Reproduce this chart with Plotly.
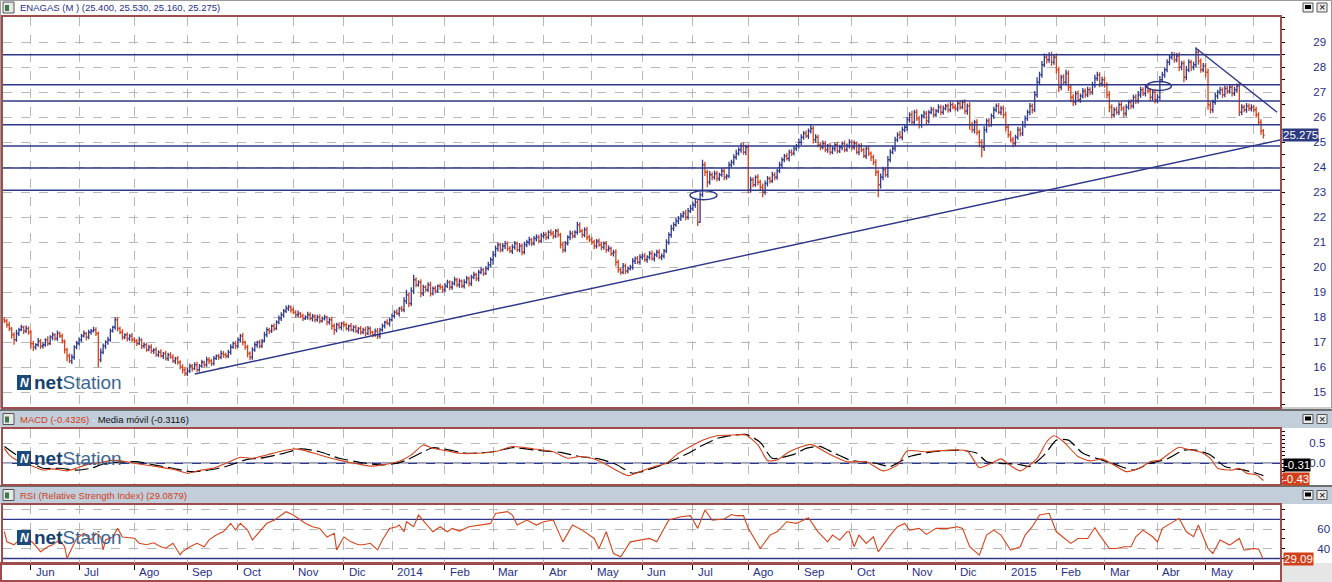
import plotly.graph_objects as go

W, H = 1332, 582


def px(x):
    return x / W


def py(y):
    return 1 - y / H


BLUE = "#2f3c8f"
RED = "#d4431c"
NAVY = "#2e3888"
FRAME = "#a04c4c"
GRID = "#b8b8b8"
TXT = "#1f2f86"
FONT = "Liberation Sans"

# ---------------- data ----------------
month_labels = ["", "Jun", "Jul", "Ago", "Sep", "Oct", "Nov", "Dic", "2014", "Feb", "Mar", "Abr", "May",
                "Jun", "Jul", "Ago", "Sep", "Oct", "Nov", "Dic", "2015", "Feb", "Mar", "Abr", "May", ""]

first_open = 17.90
closes_by_month = [
    [17.85, 17.70, 17.55, 17.30, 17.10, 17.35, 17.50, 17.60, 17.45, 17.55, 17.40],
    [16.95, 16.80, 16.90, 17.05, 16.85, 16.90, 17.10, 16.95, 17.20, 17.30, 17.15, 17.35, 17.25, 17.05, 16.70, 16.45, 16.25, 16.40, 16.80, 16.95],
    [17.10, 17.25, 17.35, 17.20, 17.40, 17.45, 17.50, 17.35, 16.30, 16.60, 16.85, 17.00, 17.10, 17.45, 17.60, 17.90, 17.55, 17.40, 17.20, 17.30, 17.15, 17.25, 17.10],
    [17.05, 16.95, 17.10, 16.85, 16.90, 16.70, 16.80, 16.65, 16.70, 16.50, 16.60, 16.45, 16.55, 16.35, 16.50, 16.40, 16.25, 16.35, 16.20, 16.00, 15.90, 15.75],
    [15.85, 16.05, 15.95, 16.10, 15.90, 16.05, 16.20, 16.10, 16.30, 16.25, 16.15, 16.35, 16.45, 16.40, 16.55, 16.50, 16.45, 16.60, 16.80, 16.95, 16.85],
    [17.10, 17.25, 17.00, 16.80, 16.55, 16.40, 16.70, 16.90, 17.00, 16.85, 17.05, 17.30, 17.50, 17.45, 17.65, 17.55, 17.80, 17.95, 18.10, 18.25, 18.35, 18.40, 18.30],
    [18.20, 18.10, 18.15, 18.05, 17.95, 18.00, 18.10, 17.95, 18.05, 17.90, 18.00, 17.85, 17.95, 18.00, 17.80, 17.90, 17.65, 17.50, 17.70, 17.60, 17.75],
    [17.70, 17.55, 17.65, 17.50, 17.60, 17.45, 17.55, 17.40, 17.50, 17.35, 17.55, 17.40, 17.30, 17.45, 17.25, 17.50, 17.65, 17.80, 17.75, 17.90],
    [18.05, 18.20, 18.15, 18.35, 18.30, 18.65, 18.90, 18.55, 19.05, 19.50, 19.30, 19.40, 18.95, 19.20, 19.10, 19.30, 18.95, 19.15, 19.05, 19.25, 19.20, 19.10],
    [19.25, 19.40, 19.20, 19.35, 19.50, 19.30, 19.45, 19.25, 19.40, 19.55, 19.35, 19.60, 19.70, 19.55, 19.80, 19.90, 19.75, 19.95, 20.10, 20.30],
    [20.50, 20.75, 20.90, 20.70, 20.85, 20.95, 20.75, 20.65, 20.80, 20.95, 20.70, 20.85, 20.60, 20.90, 21.00, 21.10, 20.95, 21.15, 21.20, 21.05, 21.25],
    [21.30, 21.20, 21.40, 21.35, 21.25, 21.45, 21.30, 20.90, 20.70, 20.95, 21.20, 21.35, 21.25, 21.40, 21.70, 21.45, 21.30, 21.50, 21.20, 21.10],
    [21.00, 20.85, 21.05, 20.90, 20.80, 20.95, 20.70, 20.75, 20.55, 20.60, 20.20, 19.90, 19.80, 20.05, 19.85, 19.95, 20.00, 20.25, 20.35, 20.20, 20.40],
    [20.45, 20.30, 20.40, 20.55, 20.35, 20.50, 20.60, 20.40, 20.45, 20.65, 21.00, 21.30, 21.55, 21.70, 21.85, 21.95, 22.05, 22.15, 22.00, 22.25, 22.35],
    [22.50, 22.60, 21.80, 22.90, 24.10, 23.80, 23.40, 23.70, 23.60, 23.75, 23.55, 23.70, 23.85, 23.60, 23.65, 24.10, 24.20, 24.40, 24.55, 24.70, 24.85, 24.60, 24.80],
    [23.10, 23.50, 23.30, 23.60, 23.40, 23.20, 23.00, 23.35, 23.55, 23.45, 23.70, 23.60, 23.85, 24.10, 24.30, 24.45, 24.35, 24.60, 24.55, 24.75, 24.85],
    [25.00, 25.20, 25.35, 25.25, 25.45, 25.55, 25.10, 25.20, 24.90, 24.80, 24.95, 24.70, 24.85, 24.60, 24.75, 24.90, 24.65, 24.80, 24.95, 24.70, 24.85, 25.00],
    [24.80, 24.95, 24.60, 24.85, 24.70, 24.45, 24.75, 24.55, 24.40, 24.20, 23.80, 23.30, 23.60, 23.90, 23.70, 24.30, 24.60, 24.75, 25.10, 25.30, 25.20, 25.50, 25.60],
    [25.90, 26.10, 25.80, 26.20, 25.95, 25.70, 26.05, 26.15, 25.85, 26.20, 26.30, 26.10, 26.25, 26.40, 26.20, 26.35, 26.45, 26.30, 26.50, 26.40],
    [26.35, 26.55, 26.40, 26.60, 26.25, 26.45, 25.70, 25.50, 25.80, 25.40, 25.00, 24.80, 25.50, 25.85, 25.70, 26.05, 26.30, 26.45, 26.20, 26.35, 26.10],
    [25.60, 25.30, 25.10, 24.95, 25.20, 25.50, 25.35, 25.70, 25.95, 26.20, 26.45, 26.30, 26.90, 27.40, 27.70, 28.10, 28.40, 28.30, 28.50, 28.20, 28.40],
    [27.90, 27.20, 27.60, 27.40, 27.75, 27.20, 26.80, 26.60, 26.95, 26.70, 26.85, 27.05, 26.90, 27.10, 27.00, 27.30, 27.55, 27.70, 27.35, 27.50],
    [27.30, 26.90, 26.40, 26.10, 26.30, 26.20, 26.50, 26.35, 26.15, 26.40, 26.60, 26.45, 26.80, 26.65, 26.90, 27.10, 26.95, 27.20, 27.05, 26.80, 27.00, 26.70],
    [26.80, 27.50, 27.70, 27.90, 28.20, 28.40, 28.50, 28.30, 28.45, 28.00, 28.15, 27.60, 27.90, 28.20, 28.00, 28.10, 28.60, 28.25, 27.90, 28.05],
    [27.80, 26.50, 26.30, 26.60, 26.85, 27.00, 27.10, 26.90, 27.15, 27.05, 27.20, 26.95, 27.10, 27.25, 26.20, 26.40, 26.30, 26.45, 26.35, 26.40],
    [26.30, 26.10, 25.80, 25.45, 25.275],
]

# upper / lower shadow beyond the bar body, in cents
wick_up_by_month = [
    [10, 8, 12, 6, 10, 15, 8, 10, 6, 12, 8],
    [8, 10, 6, 12, 8, 10, 6, 14, 8, 10, 6, 12, 8, 10, 6, 8, 10, 12, 8, 10],
    [10, 8, 12, 6, 10, 8, 12, 10, 8, 15, 10, 8, 12, 10, 6, 10, 10, 8, 12, 6, 10, 8, 12],
    [10, 8, 12, 6, 10, 8, 10, 12, 6, 10, 8, 12, 6, 10, 8, 10, 12, 6, 10, 8, 12, 10],
    [12, 10, 8, 10, 12, 8, 10, 6, 12, 10, 8, 10, 6, 8, 12, 10, 8, 10, 12, 8, 10],
    [10, 8, 12, 6, 10, 8, 10, 12, 6, 10, 8, 12, 10, 8, 6, 10, 8, 12, 10, 8, 12, 10, 8],
    [10, 8, 12, 6, 10, 8, 12, 10, 8, 6, 10, 12, 8, 10, 6, 8, 12, 10, 8, 10, 6],
    [10, 8, 6, 12, 8, 10, 6, 10, 8, 12, 10, 8, 6, 10, 12, 8, 10, 6, 12, 8],
    [10, 8, 12, 6, 10, 15, 20, 10, 15, 20, 10, 8, 12, 10, 8, 10, 12, 8, 10, 6, 10, 8],
    [12, 10, 8, 10, 12, 8, 10, 6, 12, 10, 8, 10, 12, 8, 10, 12, 8, 10, 12, 10],
    [15, 12, 10, 8, 12, 10, 8, 10, 12, 10, 8, 12, 10, 12, 10, 12, 8, 10, 12, 10, 12],
    [12, 10, 8, 12, 10, 8, 10, 8, 12, 10, 8, 12, 10, 8, 12, 10, 8, 10, 12, 10],
    [12, 10, 8, 10, 12, 8, 10, 12, 8, 10, 12, 10, 8, 12, 10, 8, 10, 12, 8, 10, 12],
    [10, 12, 8, 10, 12, 8, 10, 12, 10, 8, 12, 10, 15, 10, 12, 10, 12, 10, 15, 12, 15],
    [12, 15, 10, 10, 20, 12, 10, 15, 10, 12, 10, 8, 12, 10, 8, 12, 10, 12, 15, 10, 12, 15, 10],
    [10, 12, 10, 8, 12, 10, 15, 12, 10, 8, 12, 10, 8, 12, 10, 8, 12, 10, 12, 10, 8],
    [15, 12, 10, 12, 10, 15, 10, 12, 10, 8, 12, 10, 8, 12, 10, 8, 12, 10, 8, 12, 10, 12],
    [10, 12, 8, 10, 12, 8, 10, 12, 8, 10, 12, 10, 15, 12, 10, 15, 12, 10, 12, 10, 15, 12, 10],
    [12, 10, 15, 10, 12, 10, 8, 12, 10, 8, 12, 10, 8, 12, 10, 12, 8, 10, 12, 10],
    [12, 10, 12, 10, 12, 10, 15, 12, 10, 12, 10, 12, 15, 10, 12, 10, 12, 10, 12, 10, 12],
    [12, 10, 15, 12, 10, 12, 10, 15, 12, 10, 12, 10, 15, 20, 12, 15, 15, 12, 10, 12, 10],
    [15, 12, 10, 12, 15, 12, 10, 12, 10, 12, 10, 12, 10, 12, 10, 12, 15, 12, 10, 12],
    [12, 10, 15, 12, 10, 12, 10, 12, 10, 12, 10, 12, 10, 12, 15, 12, 10, 12, 10, 12, 10, 12],
    [12, 15, 12, 10, 12, 10, 12, 10, 12, 15, 10, 12, 15, 12, 10, 12, 20, 12, 10, 12],
    [12, 15, 12, 10, 12, 10, 12, 10, 12, 10, 12, 10, 12, 10, 15, 12, 10, 12, 10, 12],
    [10, 12, 10, 12, 8],
]
wick_dn_by_month = [
    [8, 12, 10, 15, 20, 8, 10, 6, 12, 8, 10],
    [20, 15, 10, 8, 12, 10, 8, 10, 6, 12, 8, 10, 8, 10, 15, 20, 8, 12, 10, 8],
    [8, 10, 6, 12, 8, 10, 6, 10, 30, 10, 8, 12, 10, 8, 6, 10, 12, 8, 10, 8, 12, 10, 8],
    [8, 10, 6, 12, 10, 8, 6, 10, 12, 8, 10, 6, 12, 8, 10, 6, 8, 12, 10, 8, 15, 10],
    [10, 8, 12, 6, 10, 8, 6, 10, 8, 12, 10, 8, 6, 10, 8, 12, 10, 8, 10, 6, 12],
    [8, 10, 12, 10, 15, 12, 10, 8, 12, 10, 8, 6, 10, 12, 8, 10, 6, 8, 10, 12, 8, 10, 12],
    [8, 12, 10, 8, 10, 6, 10, 8, 12, 10, 8, 10, 6, 8, 12, 10, 15, 20, 10, 8, 12],
    [10, 8, 12, 6, 10, 8, 12, 10, 8, 10, 6, 12, 10, 8, 12, 10, 8, 10, 6, 12],
    [8, 10, 6, 12, 8, 10, 12, 15, 10, 12, 10, 8, 15, 10, 8, 10, 12, 8, 10, 8, 10, 12],
    [10, 8, 12, 10, 8, 10, 12, 8, 10, 6, 12, 10, 8, 10, 12, 8, 10, 6, 8, 10],
    [20, 10, 12, 10, 8, 12, 10, 8, 12, 10, 8, 10, 12, 8, 10, 12, 10, 8, 12, 10, 8],
    [10, 12, 8, 10, 12, 8, 10, 15, 12, 10, 8, 12, 10, 8, 10, 8, 12, 10, 12, 10],
    [10, 12, 10, 8, 12, 10, 12, 8, 10, 12, 15, 12, 10, 8, 12, 10, 8, 10, 12, 8, 10],
    [10, 8, 12, 10, 8, 12, 10, 8, 12, 10, 8, 10, 12, 10, 8, 12, 10, 8, 12, 10, 8],
    [10, 12, 15, 2, 10, 15, 20, 10, 12, 10, 12, 10, 8, 12, 10, 8, 10, 12, 10, 8, 12, 10, 12],
    [15, 12, 10, 8, 12, 15, 20, 10, 12, 10, 8, 12, 10, 8, 12, 10, 8, 12, 10, 8, 10],
    [10, 12, 10, 8, 12, 10, 15, 12, 10, 12, 8, 10, 12, 10, 8, 12, 10, 8, 12, 10, 8, 10],
    [12, 10, 8, 12, 10, 8, 12, 10, 15, 12, 15, 50, 15, 12, 10, 12, 10, 8, 12, 10, 8, 12, 10],
    [15, 12, 10, 12, 10, 15, 12, 10, 12, 10, 8, 12, 10, 8, 12, 10, 8, 12, 10, 8],
    [10, 12, 10, 8, 12, 15, 20, 12, 15, 12, 20, 40, 15, 12, 10, 8, 12, 10, 8, 12, 15],
    [15, 12, 10, 15, 12, 10, 12, 10, 12, 10, 12, 15, 10, 12, 10, 12, 10, 15, 12, 15, 10],
    [15, 20, 12, 10, 12, 15, 20, 15, 12, 10, 12, 10, 12, 10, 12, 10, 12, 10, 15, 12],
    [12, 15, 20, 15, 12, 10, 12, 10, 15, 12, 10, 12, 10, 12, 10, 12, 10, 12, 10, 15, 12, 15],
    [15, 12, 10, 12, 10, 12, 10, 12, 10, 15, 12, 20, 12, 10, 15, 12, 10, 15, 12, 10],
    [20, 20, 15, 12, 10, 12, 10, 12, 10, 12, 10, 12, 10, 12, 15, 12, 10, 12, 10, 12],
    [10, 12, 10, 15, 12],
]

# MACD (bar index, value)
macd_idx = [0, 2, 5, 9, 12, 16, 20, 26, 30, 34, 40, 45, 51, 56, 63, 70, 76, 81, 87, 92, 98, 103, 109, 114, 120,
            124, 131, 139, 147, 152, 157, 164, 169, 174, 178, 184, 189, 196, 205, 211, 220, 228, 234, 239, 244,
            249, 254, 259, 264, 270, 275, 280, 285, 290, 296, 303, 308, 313, 317, 321, 326, 335, 342, 350, 358,
            365, 371, 375, 383, 393, 400, 405, 410, 414, 418, 422, 429, 433, 436, 440, 446, 451, 456, 462, 466,
            472, 476, 480, 484, 488, 491, 497, 501, 504, 510, 513, 516, 520, 523]
macd_val = [0.375, 0.21, 0.08, 0.0, -0.08, -0.17, -0.14, -0.19, -0.12, -0.04, 0.02, 0.08, 0.04, -0.02, -0.08, -0.15,
            -0.25, -0.18, -0.12, 0.0, 0.15, 0.125, 0.21, 0.29, 0.36, 0.33, 0.21, 0.08, -0.02, -0.07, -0.04, 0.05,
            0.21, 0.46, 0.375, 0.31, 0.25, 0.25, 0.31, 0.42, 0.36, 0.29, 0.125, 0.17, 0.125, 0.0, -0.17, -0.31,
            -0.21, -0.08, 0.0, 0.25, 0.42, 0.58, 0.69, 0.71, 0.71, 0.46, 0.07, 0.08, 0.29, 0.475, 0.25, 0.04, 0.04,
            -0.19, -0.04, 0.31, 0.29, 0.33, 0.31, -0.11, 0.0, 0.11, -0.06, -0.19, 0.125, 0.54, 0.69, 0.54, 0.17,
            0.06, 0.11, -0.08, -0.21, -0.11, 0.04, 0.08, 0.25, 0.40, 0.36, 0.275, 0.125, -0.125, -0.17, -0.125,
            -0.25, -0.29, -0.4326]
signal_idx = [0, 5, 11, 16, 23, 30, 36, 42, 55, 62, 70, 77, 84, 92, 101, 106, 116, 123, 131, 139, 148, 156, 163,
              167, 174, 178, 185, 192, 203, 211, 222, 231, 239, 247, 254, 261, 270, 275, 284, 289, 297, 308, 314,
              319, 328, 333, 339, 344, 350, 351, 362, 368, 376, 386, 397, 404, 408, 414, 421, 426, 432, 437, 442,
              448, 456, 462, 469, 476, 483, 490, 495, 501, 507, 515, 520, 523]
signal_val = [0.42, 0.21, 0.02, -0.125, -0.125, -0.17, -0.125, 0.0, 0.04, -0.04, -0.125, -0.21, -0.18, -0.08, 0.10,
              0.125, 0.25, 0.36, 0.29, 0.125, 0.02, -0.04, 0.0, 0.08, 0.29, 0.39, 0.33, 0.25, 0.29, 0.39, 0.32, 0.275,
              0.17, 0.11, -0.025, -0.25, -0.11, 0.0, 0.25, 0.42, 0.64, 0.725, 0.525, 0.125, 0.225, 0.375, 0.42, 0.275,
              0.11, 0.08, 0.0, -0.08, 0.17, 0.29, 0.33, 0.25, 0.04, 0.0, -0.025, -0.08, 0.21, 0.58, 0.58, 0.25, 0.08,
              -0.04, -0.17, 0.0, 0.11, 0.33, 0.33, 0.21, -0.08, -0.17, -0.25, -0.3116]

# RSI (bar index, value)
rsi_idx = [0, 1, 4, 6, 9, 12, 15, 18, 20, 23, 25, 26, 28, 30, 33, 36, 38, 40, 41, 42, 45, 47, 49, 54, 56, 59, 62,
           65, 67, 70, 73, 74, 77, 80, 83, 85, 88, 91, 94, 96, 98, 101, 103, 106, 109, 112, 114, 117, 120, 123,
           125, 128, 131, 134, 137, 138, 141, 144, 147, 149, 152, 155, 157, 160, 163, 164, 166, 167, 170, 172,
           175, 178, 181, 184, 186, 189, 193, 198, 202, 204, 209, 211, 213, 217, 221, 224, 228, 232, 236, 240,
           245, 247, 250, 253, 256, 260, 264, 268, 271, 274, 276, 281, 285, 288, 291, 294, 299, 302, 304, 307,
           309, 314, 318, 321, 325, 329, 334, 338, 342, 344, 347, 350, 351, 353, 355, 358, 361, 363, 365, 368,
           371, 374, 376, 380, 383, 387, 392, 396, 398, 401, 405, 408, 411, 414, 418, 422, 424, 427, 430, 434,
           437, 443, 446, 450, 453, 455, 459, 462, 465, 468, 470, 473, 477, 479, 481, 486, 488, 491, 494, 496,
           500, 502, 505, 509, 513, 515, 519, 521, 523]
rsi_val = [57.5, 47, 44, 49, 52, 45.6, 37, 42, 44, 49, 42, 30, 40.5, 50.7, 55.8, 49, 55.8, 52, 38.8, 49, 52, 60.8,
           52, 50.7, 45.6, 44, 46, 42, 40.5, 45.6, 33.7, 37, 42, 45.6, 42, 49, 54, 57.5, 66, 59, 66, 59, 49, 57.5,
           66, 69, 72.7, 77.8, 74.4, 69, 66, 62.5, 60.8, 52, 55.8, 38.8, 52, 47, 44, 44, 45.6, 38.8, 49, 60.8, 62.5,
           64.2, 57.3, 67.6, 62.5, 74.4, 65.9, 57.3, 62.5, 57.3, 60.8, 58, 62.5, 64.2, 65.9, 76, 77.9, 74.4, 64.2,
           69.3, 64.2, 67.6, 69.3, 47, 64.2, 59, 50.5, 40.2, 57.3, 35, 31.7, 47, 48.8, 50.5, 47, 60.8, 69.3, 72.7,
           73.8, 60.8, 79.6, 69.3, 70.3, 75, 73.8, 73.8, 60.8, 40.2, 53.9, 57.3, 67.6, 65.9, 71.7, 57.3, 47, 53.9,
           48.8, 57.3, 57.3, 42, 53.9, 45.4, 52.2, 36.8, 43.7, 53.9, 62.5, 65.9, 59, 60.8, 54.6, 60.8, 60.8, 62.5,
           60.8, 42, 33.4, 53.9, 59, 53.9, 38.5, 42, 53.9, 62.5, 74.4, 76.2, 57.3, 45.4, 50.5, 50.5, 61.5, 53.9,
           40.2, 40.2, 42, 42, 52.2, 59, 52.2, 47, 60.8, 67.6, 71, 57.3, 52.2, 64.2, 40.2, 35.1, 48.8, 43.7, 50.5,
           38.5, 40.2, 39.6, 29.09]

# drawn levels / trendlines / ellipses (price units, bar index)
h_levels = [28.5, 27.3, 26.65, 25.7, 24.85, 23.97, 23.08]
support_line = [(79.1, 15.73), (529.9, 25.09)]
resist_line = [(495.0, 28.76), (528.7, 26.2)]
ellipses = [(284.8, 22.70, 296.0, 23.06), (474.4, 27.07, 484.8, 27.43)]

price_ticks = list(range(15, 30))

# ---------------- build series ----------------
closes, wick_up, wick_dn = [], [], []
for cm, wu, wd in zip(closes_by_month, wick_up_by_month, wick_dn_by_month):
    n = len(cm)
    closes += cm
    wick_up += (list(wu) + [wu[-1]] * n)[:n]
    wick_dn += (list(wd) + [wd[-1]] * n)[:n]
opens = [first_open] + closes[:-1]
highs = [max(o, c) + u / 100 for o, c, u in zip(opens, closes, wick_up)]
lows = [min(o, c) - d / 100 for o, c, d in zip(opens, closes, wick_dn)]
N = len(closes)
xs = list(range(N))

month_starts = []
pos = 0
for cm in closes_by_month:
    month_starts.append(pos)
    pos += len(cm)
grid_x = month_starts[1:]

fig = go.Figure()
fig.add_trace(go.Ohlc(x=xs, open=opens, high=highs, low=lows, close=closes, xaxis="x", yaxis="y",
                      increasing=dict(line=dict(color=BLUE, width=1.3)),
                      decreasing=dict(line=dict(color=RED, width=1.3)),
                      tickwidth=0.5, hoverinfo="skip", showlegend=False))
fig.add_trace(go.Scatter(x=signal_idx, y=signal_val, xaxis="x2", yaxis="y2", mode="lines",
                         line=dict(color="black", width=1.2, dash="14px,5px", shape="spline", smoothing=0.6),
                         hoverinfo="skip", showlegend=False))
fig.add_trace(go.Scatter(x=macd_idx, y=macd_val, xaxis="x2", yaxis="y2", mode="lines",
                         line=dict(color=RED, width=1.1, shape="spline", smoothing=0.6),
                         hoverinfo="skip", showlegend=False))
fig.add_trace(go.Scatter(x=rsi_idx, y=rsi_val, xaxis="x3", yaxis="y3", mode="lines",
                         line=dict(color=RED, width=1.1), hoverinfo="skip", showlegend=False))

xdom = [px(3), px(1280)]
common_x = dict(range=[-0.6, 529.9], domain=xdom, tickmode="array", tickvals=grid_x, showticklabels=False,
                showgrid=True, gridcolor=GRID, griddash="dash", gridwidth=1, zeroline=False,
                showline=True, mirror=True, linecolor=FRAME, linewidth=2, fixedrange=True)
axis_font = dict(family=FONT, size=11.5, color=TXT)

fig.update_layout(
    width=W, height=H, autosize=False, margin=dict(l=0, r=0, t=0, b=0),
    paper_bgcolor="white", plot_bgcolor="white",
    xaxis=dict(common_x, anchor="y", ticks="", rangeslider=dict(visible=False)),
    xaxis2=dict(common_x, anchor="y2", ticks="", matches="x"),
    xaxis3=dict(common_x, anchor="y3", ticks="outside", ticklen=5, tickcolor="black", tickwidth=1, matches="x"),
    yaxis=dict(domain=[py(407), py(17)], range=[14.41, 30.01], side="right", tickmode="array",
               tickvals=price_ticks, ticktext=[str(v) for v in price_ticks],
               ticks="outside", ticklen=3, tickcolor="black",
               minor=dict(dtick=0.5, tick0=0, ticks="outside", ticklen=3, tickcolor="black", showgrid=False),
               showgrid=True, gridcolor=GRID, griddash="dash", zeroline=False,
               showline=True, mirror=True, linecolor=FRAME, linewidth=2,
               tickfont=axis_font, ticklabelstandoff=26, fixedrange=True),
    yaxis2=dict(domain=[py(484), py(429)], range=[-0.52, 0.86], side="right", tickmode="array",
                tickvals=[-0.5, 0.0, 0.5], ticktext=["", "0.0", "0.5"],
                ticks="outside", ticklen=3, tickcolor="black",
                minor=dict(dtick=0.1, tick0=0, ticks="outside", ticklen=3, tickcolor="black", showgrid=False),
                showgrid=True, gridcolor=GRID, griddash="dash", zeroline=False,
                showline=True, mirror=True, linecolor=FRAME, linewidth=2,
                tickfont=axis_font, ticklabelstandoff=22, fixedrange=True),
    yaxis3=dict(domain=[py(562.5), py(505)], range=[25.9, 84.7], side="right", tickmode="array",
                tickvals=[40, 60, 80], ticktext=["40", "60", ""],
                ticks="outside", ticklen=3, tickcolor="black",
                minor=dict(dtick=10, tick0=0, ticks="outside", ticklen=3, tickcolor="black", showgrid=False),
                showgrid=True, gridcolor=GRID, griddash="dash", zeroline=False,
                showline=True, mirror=True, linecolor=FRAME, linewidth=2,
                tickfont=axis_font, ticklabelstandoff=30, fixedrange=True),
)

shapes = []


def prect(x0, y0, x1, y1, fill=None, line=None, lw=1, layer="below"):
    shapes.append(dict(type="rect", xref="paper", yref="paper", x0=px(x0), x1=px(x1), y0=py(y1), y1=py(y0),
                       fillcolor=fill if fill else "rgba(0,0,0,0)",
                       line=dict(color=line if line else "rgba(0,0,0,0)", width=lw if line else 0),
                       layer=layer))


# panel frames / header bands
prect(0.5, 0.5, 1331.5, 408, line="#9a9a9a", lw=1)
prect(0, 409, 1332, 428, fill="#c2ceda")
prect(0, 409, 1332, 411, fill="#6e6e6e")
prect(0, 485, 1332, 504, fill="#c2ceda")
prect(0, 485, 1332, 487, fill="#6e6e6e")
prect(1282, 563, 1332, 582, fill="#e6e6e6")
prect(1, 563, 1281, 581, line=FRAME, lw=2)

# header icons and buttons
for yc in (8, 419.5, 495.5):
    prect(3, yc - 6, 14, yc + 5, fill="#e8e8e8", line="#555555", lw=1, layer="above")
    prect(5, yc - 3, 9, yc + 3, fill="#3c7a4c", layer="above")
    prect(1303, yc - 5, 1313, yc + 4, fill="#ececec", line="#555555", lw=1, layer="above")
    prect(1305, yc - 3, 1311, yc + 1, fill="black", layer="above")
    prect(1317, yc - 5, 1327, yc + 4, fill="#ececec", line="#555555", lw=1, layer="above")

# horizontal support / resistance levels
for lv in h_levels:
    shapes.append(dict(type="line", xref="x domain", yref="y", x0=0, x1=1, y0=lv, y1=lv,
                       line=dict(color=NAVY, width=1.6), layer="above"))
for (xa, ya), (xb, yb) in (support_line, resist_line):
    shapes.append(dict(type="line", xref="x", yref="y", x0=xa, y0=ya, x1=xb, y1=yb,
                       line=dict(color=NAVY, width=1.4), layer="above"))
for (xa, ya, xb, yb) in ellipses:
    shapes.append(dict(type="circle", xref="x", yref="y", x0=xa, y0=ya, x1=xb, y1=yb,
                       line=dict(color=NAVY, width=1.4), layer="above"))
shapes.append(dict(type="line", xref="x2 domain", yref="y2", x0=0, x1=1, y0=0, y1=0,
                   line=dict(color=NAVY, width=1.4), layer="below"))
for lv in (30, 70):
    shapes.append(dict(type="line", xref="x3 domain", yref="y3", x0=0, x1=1, y0=lv, y1=lv,
                       line=dict(color=NAVY, width=1.4), layer="below"))

# netStation logo icons
for ytop in (375, 451, 530):
    prect(17, ytop, 31, ytop + 15, fill="#1b4a7a", layer="above")

fig.update_layout(shapes=shapes)

ann = []


def ptext(x, y, text, size=9.5, color=TXT, xanchor="left", **kw):
    ann.append(dict(xref="paper", yref="paper", x=px(x), y=py(y), text=text, showarrow=False,
                    xanchor=xanchor, yanchor="middle", font=dict(family=FONT, size=size, color=color), **kw))


ptext(18, 8, "ENAGAS (M ) (25.400, 25.530, 25.160, 25.275)")
ptext(18, 419.5, "<span style='color:#d0401a'>MACD (-0.4326)</span>"
                 "<span style='color:#f4f4f4'> - </span>"
                 "<span style='color:#111111'>Media móvil (-0.3116)</span>")
ptext(18, 495.5, "RSI (Relative Strength Index) (29.0879)", color="#d0401a")
for yc in (8, 419.5, 495.5):
    ptext(1322, yc - 0.5, "×", size=11, color="black", xanchor="center")

for ytop in (375, 451, 530):
    ptext(24, ytop + 7.5, "<b><i>N</i></b>", size=12, color="white", xanchor="center")
    ptext(32, ytop + 7.5, "<span style='color:#16406f'><b>net</b></span>"
                          "<span style='color:#3b6792'>Station</span>", size=19)

# month labels
for ms, lab in zip(month_starts, month_labels):
    if lab:
        ann.append(dict(xref="x3", yref="paper", x=ms, y=py(572), text=lab, showarrow=False,
                        xanchor="left", yanchor="middle", xshift=3,
                        font=dict(family=FONT, size=11.5, color=TXT)))

# last value boxes
ann.append(dict(xref="paper", yref="y", x=px(1282), y=closes[-1], text="25.275", showarrow=False,
                xanchor="left", yanchor="middle", bgcolor="#2d3a80", borderpad=0,
                font=dict(family=FONT, size=11.5, color="white")))
ann.append(dict(xref="paper", yref="y2", x=px(1283), y=-0.045, text="-0.31", showarrow=False,
                xanchor="left", yanchor="middle", bgcolor="black", borderpad=0,
                font=dict(family=FONT, size=11.5, color="white")))
ann.append(dict(xref="paper", yref="y2", x=px(1282), y=-0.39, text="-0.43", showarrow=False,
                xanchor="left", yanchor="middle", bgcolor="#d0401a", borderpad=0,
                font=dict(family=FONT, size=11.5, color="white")))
ann.append(dict(xref="paper", yref="y3", x=px(1283), y=29.6, text="29.09", showarrow=False,
                xanchor="left", yanchor="middle", bgcolor="#d0401a", borderpad=0,
                font=dict(family=FONT, size=11.5, color="white")))

fig.update_layout(annotations=ann)
fig.write_html("out.html")
